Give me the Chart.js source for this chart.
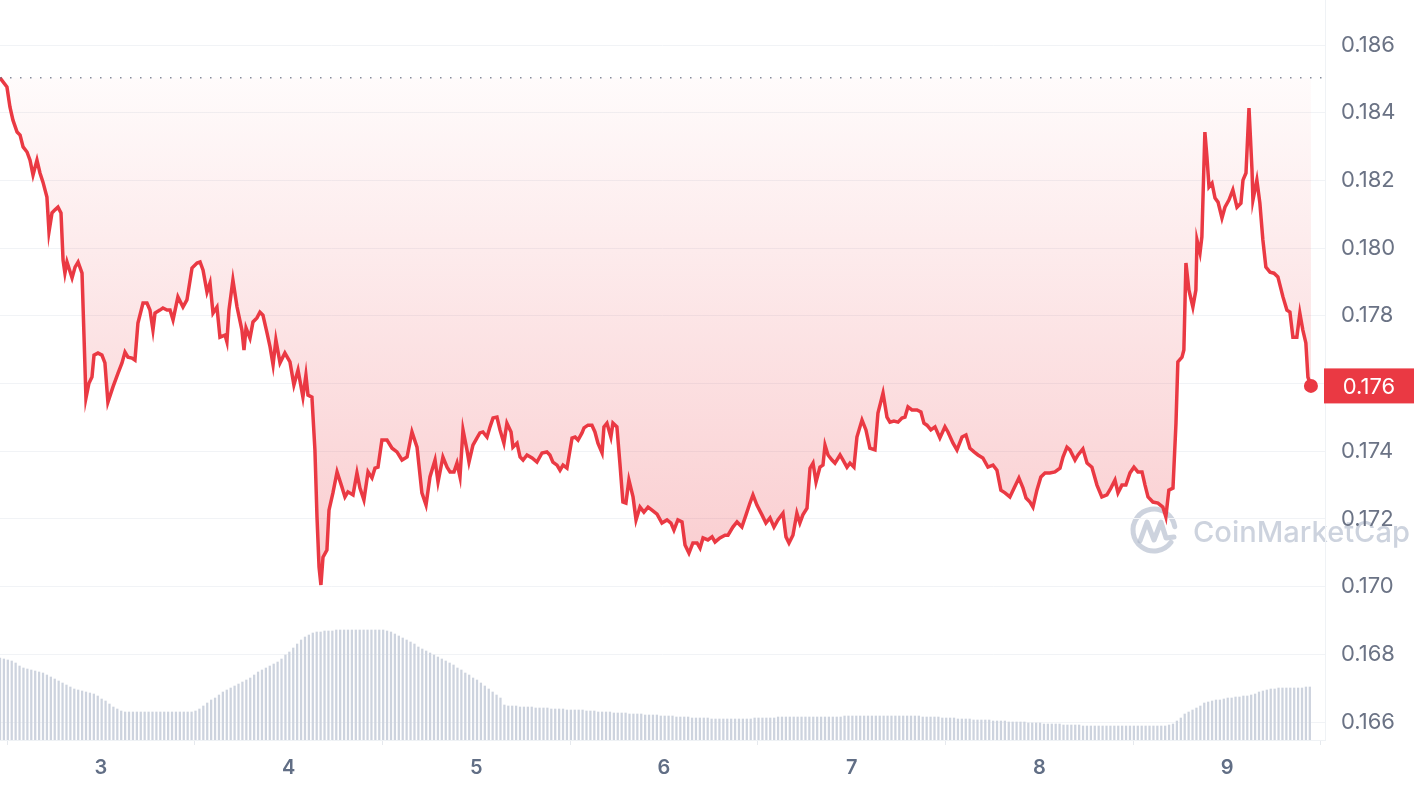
<!DOCTYPE html>
<html>
<head>
<meta charset="utf-8">
<script src="https://cdn.jsdelivr.net/npm/chart.js@4.4.1/dist/chart.umd.min.js"></script>
<style>
  html, body { margin: 0; padding: 0; background: #fff; }
  #wrap { width: 1420px; height: 792px; position: relative; }
</style>
</head>
<body>
<div id="wrap"><canvas id="chart"></canvas></div>
<script>
// time in days of the month, price in USD
const times = [
  2.462, 2.499, 2.515, 2.531, 2.553, 2.569, 2.585, 2.606, 2.622, 2.638,
  2.659, 2.675, 2.691, 2.712, 2.723, 2.739, 2.755, 2.771, 2.787, 2.798,
  2.808, 2.819, 2.846, 2.862, 2.878, 2.899, 2.920, 2.936, 2.952, 2.963,
  2.984, 3.005, 3.021, 3.037, 3.064, 3.091, 3.112, 3.128, 3.144, 3.165,
  3.181, 3.197, 3.224, 3.245, 3.261, 3.277, 3.288, 3.314, 3.330, 3.352,
  3.368, 3.384, 3.410, 3.437, 3.458, 3.485, 3.512, 3.528, 3.544, 3.565,
  3.581, 3.597, 3.618, 3.634, 3.661, 3.671, 3.682, 3.703, 3.725, 3.751,
  3.762, 3.773, 3.794, 3.810, 3.831, 3.847, 3.863, 3.885, 3.901, 3.917,
  3.932, 3.954, 3.980, 4.007, 4.028, 4.050, 4.076, 4.092, 4.103, 4.124,
  4.140, 4.151, 4.162, 4.172, 4.183, 4.204, 4.215, 4.236, 4.258, 4.284,
  4.300, 4.316, 4.343, 4.364, 4.380, 4.401, 4.423, 4.444, 4.460, 4.476,
  4.497, 4.524, 4.551, 4.577, 4.604, 4.631, 4.657, 4.684, 4.710, 4.732,
  4.753, 4.780, 4.796, 4.822, 4.844, 4.860, 4.881, 4.897, 4.913, 4.929,
  4.950, 4.961, 4.982, 5.003, 5.019, 5.035, 5.057, 5.073, 5.089, 5.110,
  5.126, 5.147, 5.163, 5.185, 5.195, 5.217, 5.233, 5.249, 5.270, 5.297,
  5.323, 5.350, 5.376, 5.392, 5.408, 5.430, 5.446, 5.462, 5.483, 5.510,
  5.526, 5.542, 5.563, 5.574, 5.595, 5.616, 5.632, 5.648, 5.670, 5.680,
  5.696, 5.717, 5.728, 5.749, 5.765, 5.781, 5.797, 5.813, 5.835, 5.851,
  5.872, 5.893, 5.915, 5.936, 5.963, 5.989, 6.016, 6.037, 6.053, 6.074,
  6.096, 6.112, 6.133, 6.154, 6.176, 6.192, 6.208, 6.234, 6.256, 6.272,
  6.298, 6.325, 6.341, 6.367, 6.389, 6.415, 6.437, 6.458, 6.474, 6.495,
  6.522, 6.543, 6.565, 6.586, 6.607, 6.634, 6.650, 6.666, 6.687, 6.708,
  6.724, 6.740, 6.762, 6.778, 6.794, 6.810, 6.831, 6.847, 6.858, 6.874,
  6.895, 6.911, 6.938, 6.954, 6.975, 6.991, 7.012, 7.028, 7.055, 7.076,
  7.097, 7.124, 7.140, 7.167, 7.188, 7.204, 7.225, 7.247, 7.268, 7.284,
  7.300, 7.321, 7.348, 7.369, 7.385, 7.401, 7.422, 7.444, 7.470, 7.497,
  7.513, 7.540, 7.561, 7.588, 7.609, 7.630, 7.652, 7.673, 7.699, 7.726,
  7.753, 7.774, 7.795, 7.817, 7.843, 7.865, 7.891, 7.913, 7.929, 7.950,
  7.966, 7.987, 8.008, 8.030, 8.056, 8.083, 8.110, 8.126, 8.147, 8.163,
  8.190, 8.206, 8.232, 8.254, 8.280, 8.307, 8.333, 8.360, 8.381, 8.403,
  8.419, 8.440, 8.461, 8.483, 8.504, 8.525, 8.547, 8.563, 8.579, 8.605,
  8.632, 8.658, 8.674, 8.690, 8.712, 8.728, 8.738, 8.760, 8.770, 8.781,
  8.797, 8.818, 8.834, 8.840, 8.856, 8.866, 8.882, 8.893, 8.904, 8.920,
  8.936, 8.952, 8.973, 8.989, 9.010, 9.031, 9.053, 9.074, 9.085, 9.101,
  9.117, 9.133, 9.138, 9.159, 9.175, 9.191, 9.207, 9.229, 9.250, 9.271,
  9.298, 9.319, 9.335, 9.351, 9.372, 9.388, 9.404, 9.420, 9.431, 9.447
];

const prices = [
  0.18503, 0.18476, 0.18417, 0.18378, 0.18343, 0.18334, 0.18299, 0.18284, 0.18260, 0.18216,
  0.18260, 0.18222, 0.18195, 0.18151, 0.18048, 0.18104, 0.18113, 0.18121, 0.18104, 0.17965,
  0.17926, 0.17959, 0.17912, 0.17944, 0.17959, 0.17926, 0.17557, 0.17601, 0.17619, 0.17684,
  0.17690, 0.17684, 0.17661, 0.17545, 0.17590, 0.17631, 0.17661, 0.17693, 0.17678, 0.17675,
  0.17669, 0.17779, 0.17838, 0.17838, 0.17817, 0.17758, 0.17808, 0.17817, 0.17823, 0.17817,
  0.17817, 0.17788, 0.17856, 0.17826, 0.17847, 0.17941, 0.17956, 0.17959, 0.17935, 0.17870,
  0.17897, 0.17808, 0.17826, 0.17737, 0.17743, 0.17723, 0.17817, 0.17906, 0.17826, 0.17758,
  0.17699, 0.17764, 0.17734, 0.17782, 0.17794, 0.17811, 0.17802, 0.17749, 0.17708, 0.17655,
  0.17729, 0.17661, 0.17690, 0.17664, 0.17596, 0.17640, 0.17560, 0.17625, 0.17566, 0.17560,
  0.17404, 0.17206, 0.17058, 0.17005, 0.17087, 0.17108, 0.17226, 0.17277, 0.17339, 0.17294,
  0.17265, 0.17280, 0.17271, 0.17336, 0.17291, 0.17256, 0.17339, 0.17321, 0.17350, 0.17353,
  0.17433, 0.17433, 0.17409, 0.17398, 0.17374, 0.17383, 0.17457, 0.17412, 0.17277, 0.17241,
  0.17324, 0.17374, 0.17309, 0.17383, 0.17353, 0.17339, 0.17339, 0.17365, 0.17324, 0.17463,
  0.17404, 0.17368, 0.17418, 0.17439, 0.17454, 0.17457, 0.17442, 0.17472, 0.17498, 0.17501,
  0.17463, 0.17424, 0.17483, 0.17457, 0.17412, 0.17424, 0.17383, 0.17374, 0.17389, 0.17380,
  0.17368, 0.17395, 0.17398, 0.17389, 0.17368, 0.17359, 0.17344, 0.17359, 0.17350, 0.17439,
  0.17442, 0.17433, 0.17454, 0.17469, 0.17477, 0.17477, 0.17457, 0.17424, 0.17395, 0.17472,
  0.17483, 0.17442, 0.17483, 0.17472, 0.17365, 0.17250, 0.17247, 0.17315, 0.17265, 0.17197,
  0.17235, 0.17220, 0.17235, 0.17226, 0.17214, 0.17188, 0.17197, 0.17188, 0.17167, 0.17197,
  0.17191, 0.17123, 0.17099, 0.17129, 0.17129, 0.17114, 0.17144, 0.17138, 0.17147, 0.17132,
  0.17144, 0.17152, 0.17152, 0.17176, 0.17191, 0.17176, 0.17212, 0.17247, 0.17271, 0.17241,
  0.17212, 0.17188, 0.17203, 0.17176, 0.17197, 0.17217, 0.17147, 0.17129, 0.17152, 0.17217,
  0.17188, 0.17212, 0.17232, 0.17350, 0.17365, 0.17309, 0.17353, 0.17359, 0.17418, 0.17389,
  0.17374, 0.17365, 0.17389, 0.17374, 0.17353, 0.17365, 0.17353, 0.17442, 0.17492, 0.17463,
  0.17409, 0.17404, 0.17513, 0.17572, 0.17501, 0.17486, 0.17489, 0.17486, 0.17498, 0.17501,
  0.17531, 0.17522, 0.17522, 0.17516, 0.17483, 0.17477, 0.17463, 0.17472, 0.17439, 0.17472,
  0.17457, 0.17424, 0.17404, 0.17442, 0.17448, 0.17409, 0.17398, 0.17389, 0.17380, 0.17353,
  0.17359, 0.17344, 0.17285, 0.17277, 0.17265, 0.17291, 0.17321, 0.17291, 0.17262, 0.17250,
  0.17235, 0.17285, 0.17324, 0.17336, 0.17336, 0.17339, 0.17350, 0.17383, 0.17412, 0.17404,
  0.17374, 0.17389, 0.17407, 0.17365, 0.17353, 0.17300, 0.17265, 0.17271, 0.17291, 0.17315,
  0.17277, 0.17300, 0.17300, 0.17336, 0.17353, 0.17339, 0.17339, 0.17300, 0.17265, 0.17250,
  0.17247, 0.17235, 0.17206, 0.17285, 0.17291, 0.17483, 0.17664, 0.17678, 0.17699, 0.17956,
  0.17876, 0.17826, 0.17876, 0.18024, 0.17986, 0.18033, 0.18343, 0.18269, 0.18181, 0.18192,
  0.18148, 0.18136, 0.18089, 0.18121, 0.18142, 0.18172, 0.18121, 0.18133, 0.18201, 0.18222,
  0.18414, 0.18231, 0.18142, 0.18201, 0.18133, 0.18024, 0.17944, 0.17929, 0.17926, 0.17915,
  0.17856, 0.17817, 0.17811, 0.17737, 0.17737, 0.17808, 0.17758, 0.17720, 0.17619, 0.17593
];

// 24h volume in millions USD, one bar per 30 minutes
const VOL_START = 2.462;
const VOL_STEP = 1 / 48;
const volumes = [
  41, 40.5, 40, 39.5, 38.5, 37, 36, 35.5, 35, 34.5,
  34, 33.5, 32.5, 31.5, 30.5, 29.5, 28.5, 27.5, 26.5, 25.5,
  25, 24.5, 24, 23.5, 23, 22, 20.5, 19.5, 18, 16.5,
  15.5, 14.5, 14, 14, 14, 14, 14, 14, 14, 14,
  14, 14, 14, 14, 14, 14, 14, 14, 14, 14,
  14.5, 15.5, 17, 18.5, 20, 21, 22.5, 24, 25, 26,
  27, 28, 29, 30, 31, 32.5, 34, 35, 36, 37,
  38, 39, 40.5, 42.5, 44, 46, 48, 50, 51.5, 52.5,
  53.5, 54, 54, 54.5, 54.5, 54.5, 55, 55, 55, 55,
  55, 55, 55, 55, 55, 55, 55, 55, 55, 54.5,
  54, 53, 52, 51, 50, 49, 48, 46.5, 45.5, 44.5,
  43.5, 42.5, 41.5, 40.5, 39.5, 38.5, 37.5, 36, 35, 33.5,
  32.5, 31, 30, 28.5, 27, 25.5, 24, 22.5, 21, 17.5,
  17, 17, 17, 16.5, 16.5, 16.5, 16.5, 16, 16, 16,
  16, 15.5, 15.5, 15.5, 15.5, 15, 15, 15, 15, 15,
  14.5, 14.5, 14.5, 14, 14, 14, 14, 13.5, 13.5, 13.5,
  13.5, 13, 13, 13, 13, 12.5, 12.5, 12.5, 12.5, 12,
  12, 12, 12, 11.5, 11.5, 11.5, 11.5, 11, 11, 11,
  11, 11, 10.5, 10.5, 10.5, 10.5, 10.5, 10.5, 10.5, 10.5,
  10.5, 10.5, 10.5, 11, 11, 11, 11, 11, 11, 11.5,
  11.5, 11.5, 11.5, 11.5, 11.5, 11.5, 11.5, 11.5, 11.5, 11.5,
  11.5, 11.5, 11.5, 11.5, 11.5, 11.5, 12, 12, 12, 12,
  12, 12, 12, 12, 12, 12, 12, 12, 12, 12,
  12, 12, 12, 12, 12, 12, 11.5, 11.5, 11.5, 11.5,
  11.5, 11, 11, 11, 11, 10.5, 10.5, 10.5, 10.5, 10,
  10, 10, 10, 10, 9.5, 9.5, 9.5, 9.5, 9, 9,
  9, 9, 9, 8.5, 8.5, 8.5, 8.5, 8, 8, 8,
  8, 8, 7.5, 7.5, 7.5, 7.5, 7.5, 7, 7, 7,
  7, 7, 7, 7, 7, 7, 7, 7, 7, 7,
  7, 7, 7, 7, 7, 7, 7, 7, 7, 7.5,
  8, 9.5, 11, 13, 14, 15, 16, 17, 18.5, 19,
  19.5, 20, 20, 20.5, 21, 21, 21.5, 21.5, 22, 22,
  22.5, 23, 24, 24.5, 25, 25.5, 25.5, 26, 26, 26,
  26, 26, 26, 26, 26.5, 26.5
];

const dayTicks = [3, 4, 5, 6, 7, 8, 9];
const priceTicks = [0.166, 0.168, 0.170, 0.172, 0.174, 0.176, 0.178, 0.180, 0.182, 0.184, 0.186];

const RED = '#ea3943';
const openPrice = prices[0];
const lastIdx = prices.length - 1;

function fillGradient(ctx) {
  const chart = ctx.chart;
  if (!chart.chartArea) return 'rgba(234,57,67,0.12)';
  const y = chart.scales.y;
  const g = chart.ctx.createLinearGradient(0, y.getPixelForValue(openPrice), 0, y.getPixelForValue(0.170));
  g.addColorStop(0, 'rgba(234,57,67,0.02)');
  g.addColorStop(1, 'rgba(234,57,67,0.26)');
  return g;
}

// background, watermark, open price line and last price tag
const decor = {
  id: 'decor',
  beforeDraw(chart) {
    const c = chart.ctx;
    c.save();
    c.fillStyle = '#fff';
    c.fillRect(0, 0, chart.width, chart.height);
    // CoinMarketCap watermark
    const wm = 'rgba(172,182,200,0.6)';
    c.strokeStyle = wm;
    c.lineWidth = 5;
    c.lineCap = 'round';
    c.lineJoin = 'round';
    c.beginPath();
    c.arc(1154, 530, 21, 0.2 * Math.PI, 1.95 * Math.PI);
    c.stroke();
    c.beginPath();
    c.moveTo(1140, 541);
    c.lineTo(1147, 522);
    c.lineTo(1154, 540);
    c.lineTo(1161, 522);
    c.lineTo(1166, 538);
    c.lineTo(1174, 537);
    c.stroke();
    c.fillStyle = wm;
    let size = 31;
    c.font = '500 ' + size + 'px Inter';
    size = size * 217 / c.measureText('CoinMarketCap').width;
    c.font = '500 ' + size.toFixed(1) + 'px Inter';
    c.textBaseline = 'alphabetic';
    c.fillText('CoinMarketCap', 1193, 542);
    c.restore();
  },
  afterDatasetsDraw(chart) {
    const c = chart.ctx;
    const y = chart.scales.y.getPixelForValue(openPrice);
    c.save();
    c.strokeStyle = 'rgba(100,110,130,0.8)';
    c.lineWidth = 1.5;
    c.setLineDash([1.5, 8.5]);
    c.beginPath();
    c.moveTo(chart.chartArea.left, y);
    c.lineTo(chart.chartArea.right, y);
    c.stroke();
    c.restore();
  },
  afterDraw(chart) {
    const c = chart.ctx;
    const last = prices[lastIdx];
    const y = chart.scales.y.getPixelForValue(last);
    const x0 = chart.chartArea.right - 1;
    c.save();
    c.fillStyle = RED;
    c.fillRect(x0, y - 17.5, 90, 35);
    c.fillStyle = '#fff';
    c.font = '22px Inter';
    c.textAlign = 'center';
    c.textBaseline = 'middle';
    c.fillText(last.toFixed(3), x0 + 45, y + 1);
    c.restore();
  }
};

new Chart(document.getElementById('chart'), {
  type: 'line',
  data: {
    datasets: [
      {
        type: 'line',
        data: times.map((t, i) => ({ x: t, y: prices[i] })),
        borderColor: RED,
        borderWidth: 3.5,
        tension: 0,
        fill: { value: openPrice },
        backgroundColor: fillGradient,
        pointRadius: ctx => (ctx.dataIndex === lastIdx ? 7 : 0),
        pointBackgroundColor: RED,
        pointBorderWidth: 0,
        order: 0,
        yAxisID: 'y'
      },
      {
        type: 'bar',
        data: volumes.map((v, i) => ({ x: VOL_START + i * VOL_STEP, y: v })),
        backgroundColor: '#cdd3de',
        barThickness: 1.6,
        order: 1,
        yAxisID: 'yVol'
      }
    ]
  },
  options: {
    responsive: true,
    maintainAspectRatio: false,
    animation: false,
    layout: { padding: 0, autoPadding: false },
    plugins: { legend: { display: false }, tooltip: { enabled: false } },
    scales: {
      x: {
        type: 'linear',
        min: 2.462,
        max: 9.522,
        offset: false,
        afterBuildTicks: s => { s.ticks = dayTicks.map(v => ({ value: v })); },
        afterFit: s => { s.height = 52; s.paddingLeft = 0; s.paddingRight = 0; },
        grid: { drawOnChartArea: false, drawTicks: true, tickLength: 5, color: '#e6e9ee' },
        border: { display: true, color: '#eff2f5' },
        ticks: {
          padding: 11,
          color: '#616e85',
          font: { family: 'Inter', size: 20, weight: '600' },
          callback: v => String(v)
        }
      },
      y: {
        position: 'right',
        min: 0.16547,
        max: 0.18733,
        afterBuildTicks: s => { s.ticks = priceTicks.map(v => ({ value: v })); },
        afterFit: s => { s.width = 95; s.paddingTop = 0; s.paddingBottom = 0; },
        grid: { color: '#f1f3f6', drawTicks: false },
        border: { display: true, color: '#eff2f5' },
        ticks: {
          padding: 16,
          color: '#6b7385',
          font: { family: 'Inter', size: 22 },
          callback: v => v.toFixed(3)
        }
      },
      yVol: {
        display: false,
        min: 0,
        max: 370
      }
    }
  },
  plugins: [decor]
});
</script>
</body>
</html>
